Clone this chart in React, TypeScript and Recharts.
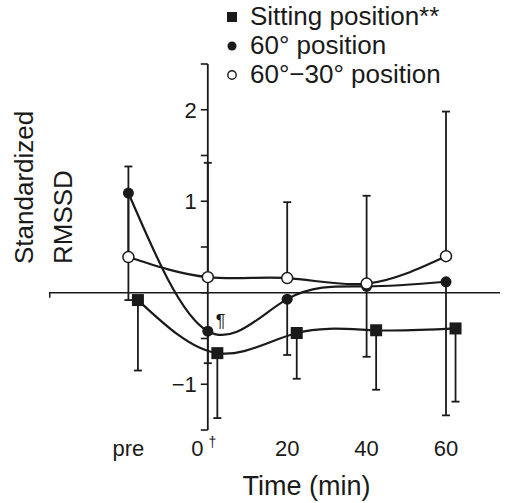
import {
  ComposedChart,
  ErrorBar,
  Legend,
  Line,
  ReferenceDot,
  ReferenceLine,
  XAxis,
  YAxis,
} from "recharts";

const categories = ["pre", "0", "20", "40", "60"];
const tickMarks = ["", "†", "", "", ""];

const sittingMean = [-0.08, -0.66, -0.44, -0.41, -0.39];
const sittingLowerErr = [0.77, 0.71, 0.5, 0.65, 0.8];

const deg60Mean = [1.09, -0.42, -0.07, 0.07, 0.12];
const deg60LowerErr = [1.17, 0.35, 0.61, 0.77, 1.46];

const deg6030Mean = [0.39, 0.17, 0.16, 0.1, 0.4];
const deg6030UpperErr = [0.99, 1.25, 0.83, 0.96, 1.58];

const yTicks = [-1.5, -1, -0.5, 0, 0.5, 1, 1.5, 2, 2.5];
const yTickLabels: Record<string, string> = { "-1": "−1", "1": "1", "2": "2" };

const legendItems = [
  { label: "Sitting position**", marker: "square" },
  { label: "60° position", marker: "dot" },
  { label: "60°−30° position", marker: "open" },
];

const FONT = '"Liberation Sans", Arial, Helvetica, sans-serif';
const INK = "#1a1a1a";
// squares are nudged right so their bars don't sit on the circles' bars
const sittingShift = 0.12;

const sittingData = categories.map((_, i) => ({
  x: i + sittingShift,
  v: sittingMean[i],
  err: [sittingLowerErr[i], 0],
}));
const deg60Data = categories.map((_, i) => ({
  x: i,
  v: deg60Mean[i],
  err: [deg60LowerErr[i], 0],
}));
const deg6030Data = categories.map((_, i) => ({
  x: i,
  v: deg6030Mean[i],
  err: [0, deg6030UpperErr[i]],
}));

function SquareDot(props: any) {
  const { cx, cy, index } = props;
  if (cx == null || cy == null) return <g key={`sq-${index}`} />;
  return <rect key={`sq-${index}`} x={cx - 6} y={cy - 6} width={12} height={12} fill={INK} />;
}

function FilledDot(props: any) {
  const { cx, cy, index } = props;
  if (cx == null || cy == null) return <g key={`fd-${index}`} />;
  return <circle key={`fd-${index}`} cx={cx} cy={cy} r={5.5} fill={INK} />;
}

function OpenDot(props: any) {
  const { cx, cy, index } = props;
  if (cx == null || cy == null) return <g key={`od-${index}`} />;
  return (
    <circle key={`od-${index}`} cx={cx} cy={cy} r={5.5} fill="#fff" stroke={INK} strokeWidth={1.5} />
  );
}

function TimeTick({ x, y, payload }: any) {
  const i = payload.value as number;
  const mark = tickMarks[i];
  return (
    <text
      x={mark ? x - 4 : x}
      y={y + 26}
      textAnchor="middle"
      fontSize={22}
      fontFamily={FONT}
      fill={INK}
    >
      {categories[i]}
      {mark && (
        <tspan dx={5} dy={-9} fontSize={14}>
          {mark}
        </tspan>
      )}
    </text>
  );
}

function YLabel() {
  return (
    <g fontFamily={FONT} fontSize={26} fill={INK}>
      <text x={33} y={264} transform="rotate(-90, 33, 264)" textAnchor="start">
        Standardized
      </text>
      <text x={72} y={264} transform="rotate(-90, 72, 264)" textAnchor="start">
        RMSSD
      </text>
    </g>
  );
}

function XLabel(props: any) {
  const vb = props.viewBox || { x: 49, width: 451, y: 430, height: 70 };
  return (
    <text
      x={vb.x + vb.width / 2 + 32}
      y={vb.y + vb.height - 5}
      textAnchor="middle"
      fontSize={27}
      fontFamily={FONT}
      fill={INK}
    >
      Time (min)
    </text>
  );
}

function LegendMarker({ kind }: { kind: string }) {
  return (
    <svg width={20} height={20} style={{ marginRight: 8, flexShrink: 0 }}>
      {kind === "square" && <rect x={5} y={5} width={10} height={10} fill={INK} />}
      {kind === "dot" && <circle cx={10} cy={10} r={4.5} fill={INK} />}
      {kind === "open" && (
        <circle cx={10} cy={10} r={4.2} fill="#fff" stroke={INK} strokeWidth={1.4} />
      )}
    </svg>
  );
}

function renderLegend() {
  return (
    <div style={{ fontFamily: FONT, fontSize: 26, color: INK }}>
      {legendItems.map((item) => (
        <div
          key={item.label}
          style={{ display: "flex", alignItems: "center", height: 29, whiteSpace: "nowrap" }}
        >
          <LegendMarker kind={item.marker} />
          <span>{item.label}</span>
        </div>
      ))}
    </div>
  );
}

export default function App() {
  return (
    <div style={{ position: "absolute", left: 0, top: 0, background: "#fff" }}>
      <ComposedChart width={523} height={503} margin={{ top: 64, right: 23, left: 0, bottom: 3 }}>
        <XAxis
          type="number"
          dataKey="x"
          domain={[-1, 4.68]}
          allowDataOverflow
          ticks={[0, 1, 2, 3, 4]}
          axisLine={false}
          tickLine={false}
          tickSize={0}
          tickMargin={0}
          tick={<TimeTick />}
          height={70}
          label={{ content: <XLabel /> }}
        />
        <YAxis
          type="number"
          domain={[-1.5, 2.5]}
          allowDataOverflow
          width={49}
          axisLine={false}
          tickLine={false}
          tick={false}
          label={{ content: <YLabel /> }}
        />
        <Legend
          layout="horizontal"
          verticalAlign="middle"
          align="center"
          content={renderLegend}
          wrapperStyle={{ top: 2, left: 222, width: "auto" }}
        />

        <ReferenceLine y={0} stroke={INK} strokeWidth={1.6} />
        <ReferenceDot
          x={-1}
          y={0}
          ifOverflow="visible"
          shape={(p: any) => (
            <line x1={p.cx + 0.75} y1={p.cy} x2={p.cx + 0.75} y2={p.cy + 5} stroke={INK} strokeWidth={1.5} />
          )}
        />
        <ReferenceLine
          segment={[
            { x: 1, y: -1.5 },
            { x: 1, y: 2.5 },
          ]}
          stroke={INK}
          strokeWidth={1.8}
          ifOverflow="visible"
        />
        {yTicks.map((v) => (
          <ReferenceDot
            key={`yt-${v}`}
            x={1}
            y={v}
            ifOverflow="visible"
            shape={(p: any) => (
              <g>
                <line x1={p.cx - 7} y1={p.cy} x2={p.cx} y2={p.cy} stroke={INK} strokeWidth={1.6} />
                {yTickLabels[String(v)] && (
                  <text
                    x={p.cx - 11}
                    y={p.cy + 8}
                    textAnchor="end"
                    fontSize={22}
                    fontFamily={FONT}
                    fill={INK}
                  >
                    {yTickLabels[String(v)]}
                  </text>
                )}
              </g>
            )}
          />
        ))}

        <Line
          data={sittingData}
          dataKey="v"
          type="natural"
          stroke={INK}
          strokeWidth={2.2}
          dot={SquareDot}
          activeDot={false}
          isAnimationActive={false}
          legendType="square"
        >
          <ErrorBar dataKey="err" direction="y" width={4} stroke={INK} strokeWidth={1.8} />
        </Line>
        <Line
          data={deg60Data}
          dataKey="v"
          type="natural"
          stroke={INK}
          strokeWidth={2.2}
          dot={FilledDot}
          activeDot={false}
          isAnimationActive={false}
        >
          <ErrorBar dataKey="err" direction="y" width={4} stroke={INK} strokeWidth={1.8} />
        </Line>
        <Line
          data={deg6030Data}
          dataKey="v"
          type="natural"
          stroke={INK}
          strokeWidth={2.2}
          dot={OpenDot}
          activeDot={false}
          isAnimationActive={false}
        >
          <ErrorBar dataKey="err" direction="y" width={4} stroke={INK} strokeWidth={1.8} />
        </Line>

        <ReferenceDot
          x={1}
          y={deg60Mean[1]}
          ifOverflow="visible"
          shape={(p: any) => (
            <text x={p.cx + 8} y={p.cy - 4} fontSize={18} fontFamily={FONT} fill={INK}>
              ¶
            </text>
          )}
        />
      </ComposedChart>
    </div>
  );
}
